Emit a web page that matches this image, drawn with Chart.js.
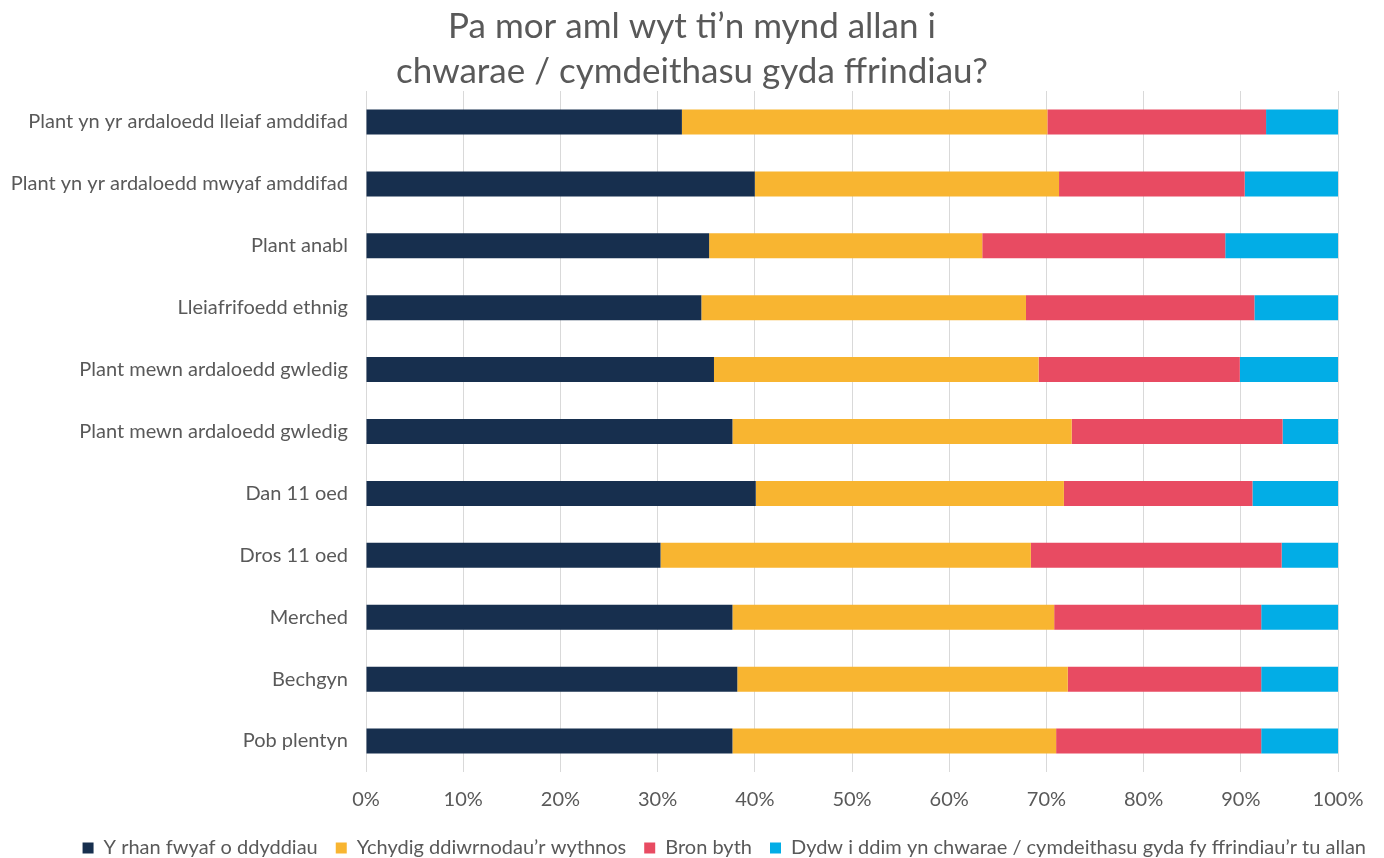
<!DOCTYPE html>
<html>
<head>
<meta charset="utf-8">
<script src="https://cdn.jsdelivr.net/npm/chart.js@4.4.1/dist/chart.umd.min.js"></script>
<style>
  html, body { margin: 0; padding: 0; background: #ffffff; }
  #wrap { width: 1384px; height: 858px; position: relative; }
</style>
</head>
<body>
<div id="wrap"><canvas id="c"></canvas></div>
<script>
const titleLines = ["Pa mor aml wyt ti\u2019n mynd allan i", "chwarae / cymdeithasu gyda ffrindiau?"];
const categories = [
  "Plant yn yr ardaloedd lleiaf amddifad",
  "Plant yn yr ardaloedd mwyaf amddifad",
  "Plant anabl",
  "Lleiafrifoedd ethnig",
  "Plant mewn ardaloedd gwledig",
  "Plant mewn ardaloedd gwledig",
  "Dan 11 oed",
  "Dros 11 oed",
  "Merched",
  "Bechgyn",
  "Pob plentyn"
];
const seriesNames = [
  "Y rhan fwyaf o ddyddiau",
  "Ychydig ddiwrnodau\u2019r wythnos",
  "Bron byth",
  "Dydw i ddim yn chwarae / cymdeithasu gyda fy ffrindiau\u2019r tu allan"
];
const mostDays   = [32.5, 40.0, 35.3, 34.5, 35.8, 37.7, 40.1, 30.3, 37.7, 38.2, 37.7];
const fewDays    = [37.6, 31.3, 28.1, 33.4, 33.4, 34.9, 31.7, 38.1, 33.1, 34.0, 33.3];
const almostNever= [22.5, 19.1, 25.0, 23.5, 20.7, 21.7, 19.4, 25.8, 21.3, 19.9, 21.1];
const doNotPlay  = [ 7.4,  9.6, 11.6,  8.6, 10.1,  5.7,  8.8,  5.8,  7.9,  7.9,  7.9];
const xTicks = [0, 10, 20, 30, 40, 50, 60, 70, 80, 90, 100];
const colors = ["#172f4e", "#f8b531", "#e84b62", "#02ade6"];

const FONT = "Lato, 'Open Sans', sans-serif";
const TEXT = "#595959";
const allSeries = [mostDays, fewDays, almostNever, doNotPlay];

new Chart(document.getElementById('c'), {
  type: 'bar',
  data: {
    labels: categories,
    datasets: allSeries.map((d, i) => ({
      label: seriesNames[i],
      data: d,
      backgroundColor: colors[i],
      borderWidth: 0,
      categoryPercentage: 1.0,
      barPercentage: 0.404
    }))
  },
  options: {
    indexAxis: 'y',
    responsive: true,
    maintainAspectRatio: false,
    animation: false,
    layout: { padding: { left: 0, right: 0, top: 0, bottom: 0 } },
    plugins: {
      title: {
        display: true,
        text: titleLines,
        color: TEXT,
        font: { family: FONT, size: 35, weight: 'normal', lineHeight: 1.286 },
        padding: { top: 4, bottom: -3 }
      },
      legend: {
        display: true,
        position: 'bottom',
        align: 'end',
        maxHeight: 38,
        labels: {
          color: TEXT,
          font: { family: FONT, size: 20 },
          boxWidth: 11,
          boxHeight: 11,
          padding: 18
        }
      },
      tooltip: { enabled: false }
    },
    scales: {
      x: {
        stacked: true,
        min: 0,
        max: 100,
        afterBuildTicks: (s) => { s.ticks = xTicks.map(v => ({ value: v })); },
        ticks: {
          color: TEXT,
          font: { family: FONT, size: 20 },
          padding: 16,
          callback: (v) => v + '%'
        },
        grid: { color: '#d9d9d9', lineWidth: 1, drawTicks: false },
        border: { display: false },
        afterFit: (s) => { s.height = 48; }
      },
      y: {
        stacked: true,
        ticks: {
          color: TEXT,
          font: { family: FONT, size: 20 },
          padding: 18
        },
        grid: { display: false, drawTicks: false },
        border: { display: false },
        afterFit: (s) => { s.width = 366; }
      },
      y2: {
        type: 'linear',
        position: 'right',
        display: true,
        ticks: { display: false },
        grid: { display: false, drawTicks: false },
        border: { display: false },
        afterFit: (s) => { s.width = 46; }
      }
    }
  }
});
</script>
</body>
</html>
